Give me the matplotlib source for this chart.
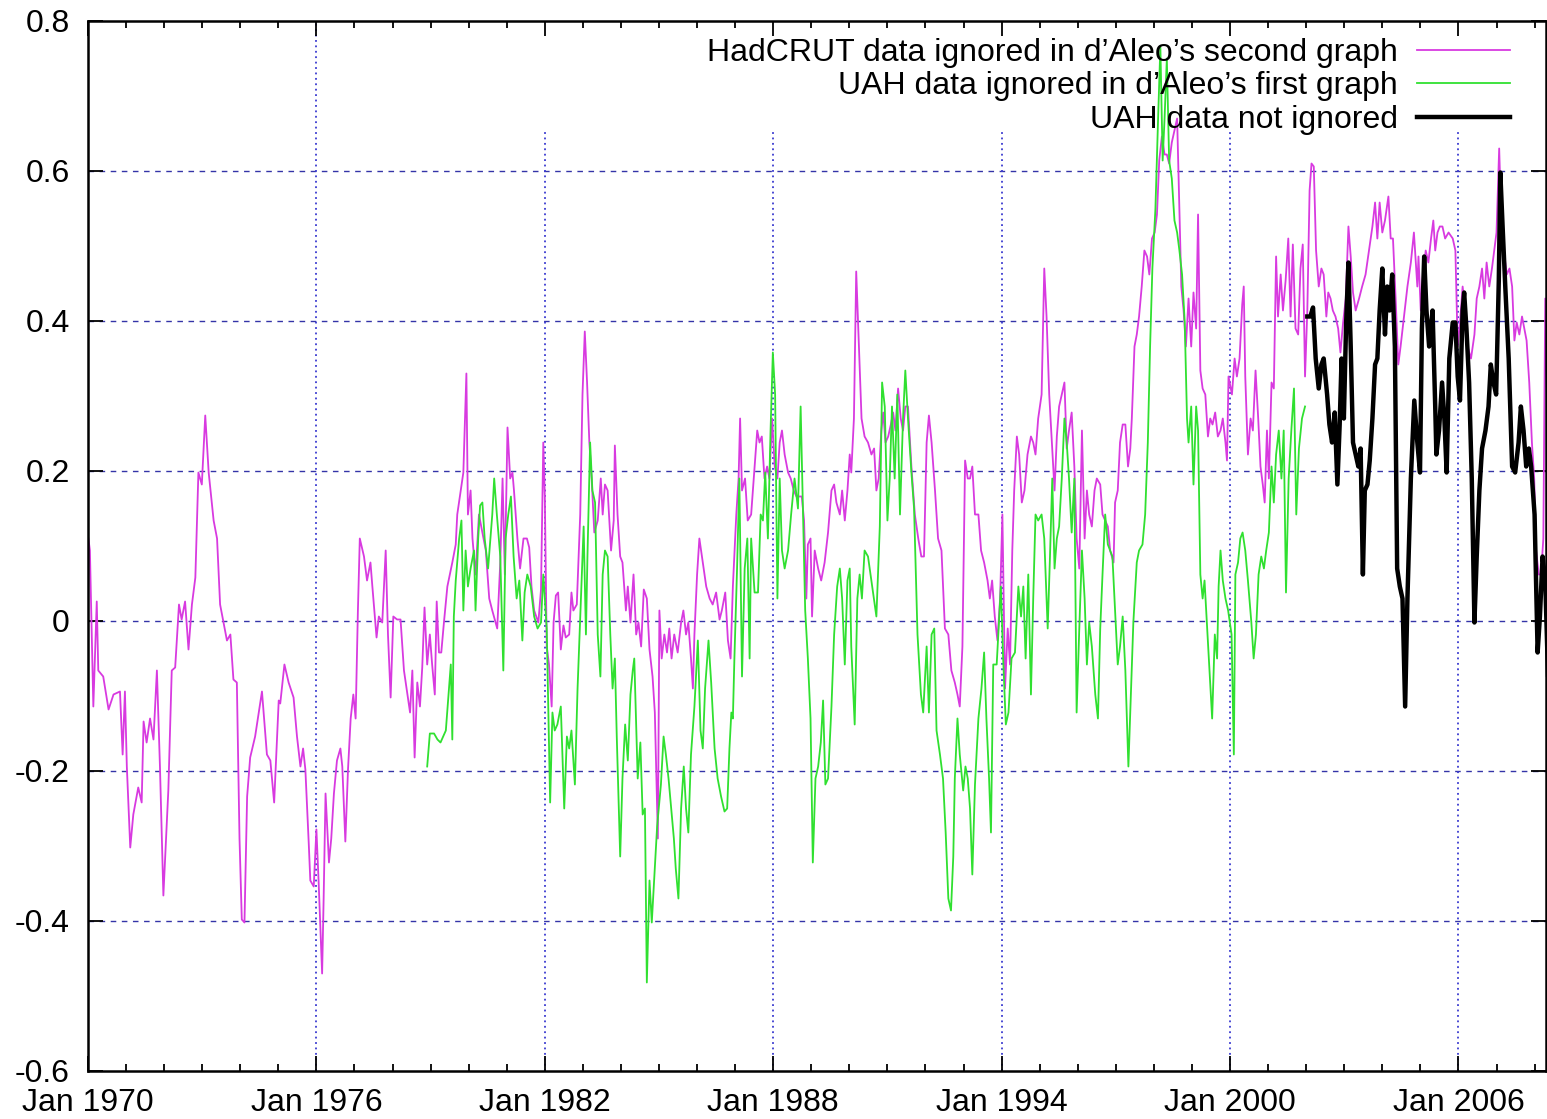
import matplotlib.pyplot as plt
import numpy as np

plt.rcParams['font.family'] = ['Liberation Sans', 'DejaVu Sans']

# HadCRUT anomaly (decimal year, deg C)
had_t = [1970.01, 1970.05, 1970.14, 1970.23, 1970.27, 1970.40, 1970.54, 1970.67, 1970.84, 1970.91,
         1970.97, 1971.02, 1971.11, 1971.19, 1971.32, 1971.41, 1971.46, 1971.54, 1971.63, 1971.72,
         1971.81, 1971.89, 1971.98, 1972.11, 1972.20, 1972.29, 1972.39, 1972.46, 1972.55, 1972.64,
         1972.73, 1972.82, 1972.90, 1972.99, 1973.08, 1973.17, 1973.30, 1973.39, 1973.47, 1973.56,
         1973.65, 1973.74, 1973.82, 1973.91, 1973.98, 1974.04, 1974.11, 1974.18, 1974.26, 1974.39,
         1974.57, 1974.70, 1974.79, 1974.89, 1975.01, 1975.05, 1975.16, 1975.27, 1975.40, 1975.49,
         1975.58, 1975.65, 1975.71, 1975.80, 1975.84, 1975.93, 1976.00, 1976.06, 1976.15, 1976.19,
         1976.24, 1976.33, 1976.39, 1976.46, 1976.54, 1976.63, 1976.68, 1976.76, 1976.83, 1976.90,
         1976.97, 1977.03, 1977.09, 1977.14, 1977.25, 1977.33, 1977.42, 1977.47, 1977.58, 1977.64,
         1977.73, 1977.82, 1977.88, 1977.95, 1978.02, 1978.12, 1978.21, 1978.30, 1978.39, 1978.46,
         1978.52, 1978.58, 1978.65, 1978.72, 1978.78, 1978.84, 1978.91, 1978.98, 1979.04, 1979.11,
         1979.16, 1979.22, 1979.28, 1979.35, 1979.44, 1979.57, 1979.66, 1979.70, 1979.79, 1979.86,
         1979.94, 1979.98, 1980.05, 1980.10, 1980.18, 1980.27, 1980.36, 1980.45, 1980.54, 1980.62,
         1980.75, 1980.83, 1980.89, 1980.95, 1981.02, 1981.09, 1981.15, 1981.19, 1981.28, 1981.35,
         1981.44, 1981.53, 1981.59, 1981.65, 1981.72, 1981.83, 1981.90, 1981.96, 1982.00, 1982.05,
         1982.11, 1982.18, 1982.23, 1982.29, 1982.35, 1982.42, 1982.49, 1982.55, 1982.64, 1982.70,
         1982.75, 1982.84, 1982.93, 1982.99, 1983.05, 1983.11, 1983.17, 1983.23, 1983.30, 1983.39,
         1983.47, 1983.52, 1983.58, 1983.65, 1983.74, 1983.81, 1983.84, 1983.91, 1983.98, 1984.04,
         1984.13, 1984.18, 1984.25, 1984.33, 1984.40, 1984.46, 1984.53, 1984.60, 1984.68, 1984.75,
         1984.83, 1984.89, 1984.97, 1985.01, 1985.07, 1985.14, 1985.21, 1985.27, 1985.33, 1985.40,
         1985.49, 1985.58, 1985.64, 1985.71, 1985.77, 1985.84, 1985.89, 1985.93, 1986.00, 1986.06,
         1986.15, 1986.24, 1986.33, 1986.41, 1986.50, 1986.59, 1986.65, 1986.74, 1986.81, 1986.88,
         1986.94, 1987.03, 1987.09, 1987.13, 1987.18, 1987.26, 1987.33, 1987.42, 1987.51, 1987.58,
         1987.64, 1987.70, 1987.77, 1987.84, 1987.90, 1987.97, 1988.04, 1988.11, 1988.17, 1988.23,
         1988.30, 1988.39, 1988.46, 1988.54, 1988.61, 1988.69, 1988.75, 1988.81, 1988.87, 1988.91,
         1988.98, 1989.02, 1989.09, 1989.18, 1989.26, 1989.35, 1989.44, 1989.53, 1989.60, 1989.66,
         1989.75, 1989.81, 1989.88, 1989.95, 1990.01, 1990.05, 1990.12, 1990.18, 1990.25, 1990.32,
         1990.40, 1990.49, 1990.58, 1990.65, 1990.71, 1990.77, 1990.84, 1990.89, 1990.95, 1991.02,
         1991.09, 1991.15, 1991.21, 1991.28, 1991.35, 1991.41, 1991.47, 1991.54, 1991.63, 1991.72,
         1991.81, 1991.89, 1991.96, 1992.03, 1992.09, 1992.16, 1992.25, 1992.33, 1992.42, 1992.51,
         1992.60, 1992.68, 1992.77, 1992.84, 1992.90, 1992.97, 1993.04, 1993.11, 1993.17, 1993.23,
         1993.30, 1993.39, 1993.46, 1993.54, 1993.63, 1993.69, 1993.75, 1993.82, 1993.89, 1993.96,
         1994.02, 1994.09, 1994.16, 1994.22, 1994.28, 1994.33, 1994.40, 1994.46, 1994.53, 1994.60,
         1994.68, 1994.77, 1994.83, 1994.89, 1994.96, 1995.05, 1995.12, 1995.18, 1995.25, 1995.32,
         1995.39, 1995.45, 1995.51, 1995.58, 1995.65, 1995.71, 1995.77, 1995.84, 1995.91, 1995.97,
         1996.04, 1996.11, 1996.18, 1996.24, 1996.30, 1996.37, 1996.44, 1996.50, 1996.59, 1996.65,
         1996.72, 1996.79, 1996.85, 1996.94, 1996.98, 1997.05, 1997.11, 1997.18, 1997.25, 1997.32,
         1997.38, 1997.42, 1997.49, 1997.55, 1997.61, 1997.68, 1997.75, 1997.82, 1997.88, 1997.95,
         1998.02, 1998.08, 1998.14, 1998.21, 1998.28, 1998.34, 1998.40, 1998.47, 1998.54, 1998.61,
         1998.67, 1998.72, 1998.78, 1998.84, 1998.91, 1998.98, 1999.04, 1999.11, 1999.16, 1999.22,
         1999.28, 1999.35, 1999.42, 1999.48, 1999.54, 1999.61, 1999.68, 1999.75, 1999.81, 1999.88,
         1999.92, 1999.96, 2000.05, 2000.12, 2000.18, 2000.25, 2000.32, 2000.36, 2000.40, 2000.47,
         2000.54, 2000.60, 2000.67, 2000.74, 2000.80, 2000.86, 2000.91, 2000.97, 2001.02, 2001.09,
         2001.15, 2001.21, 2001.26, 2001.33, 2001.39, 2001.46, 2001.53, 2001.59, 2001.65, 2001.72,
         2001.79, 2001.85, 2001.91, 2001.97, 2002.03, 2002.09, 2002.14, 2002.20, 2002.26, 2002.33,
         2002.40, 2002.46, 2002.53, 2002.58, 2002.64, 2002.70, 2002.77, 2002.84, 2002.90, 2002.97,
         2003.04, 2003.11, 2003.17, 2003.23, 2003.30, 2003.39, 2003.47, 2003.56, 2003.65, 2003.74,
         2003.81, 2003.87, 2003.93, 2004.00, 2004.07, 2004.16, 2004.22, 2004.28, 2004.35, 2004.42,
         2004.48, 2004.57, 2004.66, 2004.75, 2004.83, 2004.92, 2004.95, 2005.01, 2005.07, 2005.14,
         2005.21, 2005.28, 2005.34, 2005.39, 2005.45, 2005.51, 2005.58, 2005.65, 2005.74, 2005.85,
         2005.92, 2005.98, 2006.04, 2006.11, 2006.18, 2006.24, 2006.33, 2006.42, 2006.48, 2006.55,
         2006.62, 2006.68, 2006.74, 2006.81, 2006.88, 2006.94, 2007.00, 2007.07, 2007.14, 2007.21,
         2007.27, 2007.34, 2007.41, 2007.47, 2007.53, 2007.60, 2007.67, 2007.73, 2007.79, 2007.86,
         2007.93, 2007.99, 2008.04, 2008.11, 2008.17, 2008.23, 2008.28, 2008.34, 2008.40]
had_v = [0.110, 0.094, -0.114, 0.026, -0.066, -0.074, -0.118, -0.098, -0.094, -0.178,
         -0.094, -0.194, -0.302, -0.258, -0.222, -0.242, -0.134, -0.162, -0.130, -0.158,
         -0.066, -0.194, -0.366, -0.226, -0.066, -0.062, 0.022, 0.002, 0.026, -0.038,
         0.022, 0.058, 0.198, 0.182, 0.274, 0.198, 0.134, 0.110, 0.022, -0.002,
         -0.026, -0.018, -0.078, -0.082, -0.290, -0.398, -0.402, -0.234, -0.182, -0.154,
         -0.094, -0.178, -0.186, -0.242, -0.106, -0.110, -0.058, -0.082, -0.102, -0.154,
         -0.194, -0.170, -0.198, -0.298, -0.346, -0.354, -0.278, -0.350, -0.470, -0.370,
         -0.230, -0.322, -0.290, -0.230, -0.186, -0.170, -0.194, -0.294, -0.198, -0.130,
         -0.098, -0.130, 0.014, 0.110, 0.086, 0.054, 0.078, 0.046, -0.022, 0.006,
         -0.002, 0.094, -0.018, -0.102, 0.006, 0.002, 0.002, -0.066, -0.098, -0.122,
         -0.066, -0.182, -0.082, -0.114, -0.062, 0.018, -0.058, -0.018, -0.058, -0.098,
         0.026, -0.042, -0.042, -0.002, 0.046, 0.078, 0.102, 0.142, 0.174, 0.198,
         0.330, 0.142, 0.174, 0.110, 0.062, 0.142, 0.118, 0.094, 0.030, 0.014,
         -0.010, 0.078, 0.190, 0.062, 0.258, 0.190, 0.198, 0.174, 0.110, 0.070,
         0.110, 0.110, 0.098, 0.046, 0.014, -0.002, 0.042, 0.238, 0.166, -0.034,
         -0.058, -0.114, -0.002, 0.034, 0.038, -0.038, -0.006, -0.022, -0.018, 0.038,
         0.014, 0.022, 0.142, 0.302, 0.386, 0.318, 0.238, 0.190, 0.118, 0.134,
         0.190, 0.142, 0.182, 0.174, 0.094, 0.134, 0.234, 0.142, 0.086, 0.078,
         0.014, 0.046, -0.002, 0.062, -0.018, -0.002, -0.034, 0.042, 0.030, -0.038,
         -0.074, -0.122, -0.290, 0.014, -0.050, -0.018, -0.042, -0.010, -0.050, -0.018,
         -0.042, -0.002, 0.014, -0.018, -0.002, -0.050, -0.090, -0.018, 0.062, 0.110,
         0.078, 0.046, 0.030, 0.022, 0.038, 0.002, 0.014, 0.038, -0.026, -0.050,
         0.046, 0.142, 0.190, 0.270, 0.174, 0.190, 0.134, 0.142, 0.206, 0.254,
         0.238, 0.246, 0.190, 0.206, 0.190, 0.270, 0.206, 0.190, 0.238, 0.254,
         0.222, 0.198, 0.190, 0.174, 0.166, 0.166, 0.166, 0.134, 0.030, 0.102,
         0.110, 0.006, 0.094, 0.070, 0.054, 0.078, 0.118, 0.174, 0.182, 0.158,
         0.142, 0.174, 0.134, 0.174, 0.222, 0.198, 0.270, 0.466, 0.366, 0.270,
         0.246, 0.238, 0.222, 0.230, 0.174, 0.190, 0.254, 0.278, 0.238, 0.246,
         0.262, 0.278, 0.254, 0.310, 0.270, 0.254, 0.286, 0.286, 0.206, 0.142,
         0.110, 0.086, 0.086, 0.238, 0.274, 0.238, 0.174, 0.110, 0.094, -0.010,
         -0.018, -0.066, -0.082, -0.098, -0.114, -0.034, 0.214, 0.190, 0.190, 0.206,
         0.142, 0.142, 0.094, 0.078, 0.054, 0.030, 0.054, 0.006, -0.026, 0.030,
         0.142, -0.090, -0.010, -0.058, 0.094, 0.174, 0.246, 0.222, 0.158, 0.174,
         0.222, 0.246, 0.238, 0.222, 0.270, 0.302, 0.470, 0.406, 0.302, 0.238,
         0.174, 0.246, 0.286, 0.302, 0.318, 0.230, 0.254, 0.278, 0.206, 0.110,
         0.070, 0.254, 0.110, 0.174, 0.142, 0.126, 0.174, 0.190, 0.182, 0.142,
         0.134, 0.126, 0.094, 0.078, 0.158, 0.174, 0.238, 0.262, 0.262, 0.206,
         0.230, 0.270, 0.366, 0.382, 0.406, 0.446, 0.494, 0.486, 0.462, 0.510,
         0.518, 0.542, 0.614, 0.646, 0.622, 0.622, 0.610, 0.638, 0.654, 0.670,
         0.550, 0.446, 0.414, 0.366, 0.430, 0.366, 0.438, 0.390, 0.542, 0.334,
         0.310, 0.302, 0.246, 0.270, 0.262, 0.278, 0.246, 0.254, 0.270, 0.238,
         0.214, 0.326, 0.302, 0.350, 0.326, 0.350, 0.422, 0.446, 0.326, 0.222,
         0.270, 0.254, 0.334, 0.270, 0.206, 0.182, 0.158, 0.254, 0.190, 0.318,
         0.310, 0.486, 0.406, 0.462, 0.414, 0.454, 0.510, 0.406, 0.502, 0.390,
         0.382, 0.470, 0.502, 0.326, 0.414, 0.574, 0.610, 0.606, 0.494, 0.446,
         0.470, 0.462, 0.406, 0.438, 0.430, 0.414, 0.406, 0.390, 0.358, 0.398,
         0.430, 0.526, 0.486, 0.438, 0.414, 0.430, 0.446, 0.462, 0.494, 0.526,
         0.558, 0.510, 0.558, 0.518, 0.534, 0.566, 0.510, 0.510, 0.430, 0.342,
         0.366, 0.406, 0.446, 0.478, 0.518, 0.446, 0.486, 0.414, 0.462, 0.494,
         0.478, 0.510, 0.534, 0.494, 0.518, 0.526, 0.526, 0.510, 0.518, 0.510,
         0.494, 0.366, 0.398, 0.446, 0.414, 0.366, 0.350, 0.382, 0.430, 0.446,
         0.470, 0.430, 0.478, 0.446, 0.470, 0.494, 0.518, 0.630, 0.510, 0.486,
         0.462, 0.470, 0.446, 0.374, 0.398, 0.382, 0.406, 0.390, 0.374, 0.318,
         0.238, 0.190, 0.094, 0.062, 0.062, 0.110, 0.430, 0.254, 0.302]

# UAH lower troposphere, 1978-2001 part
uah_old_t = [1978.91, 1978.98, 1979.09, 1979.18, 1979.26, 1979.40, 1979.47, 1979.53, 1979.57, 1979.61,
             1979.66, 1979.75, 1979.81, 1979.86, 1979.92, 1979.98, 1980.05, 1980.14, 1980.18, 1980.25,
             1980.30, 1980.36, 1980.42, 1980.51, 1980.62, 1980.67, 1980.74, 1980.83, 1980.91, 1980.97,
             1981.04, 1981.11, 1981.18, 1981.26, 1981.33, 1981.41, 1981.47, 1981.54, 1981.63, 1981.72,
             1981.81, 1981.90, 1981.96, 1982.05, 1982.14, 1982.20, 1982.26, 1982.33, 1982.42, 1982.51,
             1982.58, 1982.64, 1982.70, 1982.79, 1982.86, 1982.95, 1983.02, 1983.08, 1983.12, 1983.19,
             1983.25, 1983.32, 1983.39, 1983.46, 1983.52, 1983.58, 1983.65, 1983.72, 1983.78, 1983.84,
             1983.89, 1983.98, 1984.04, 1984.11, 1984.18, 1984.25, 1984.31, 1984.35, 1984.44, 1984.51,
             1984.57, 1984.63, 1984.68, 1984.75, 1984.81, 1984.88, 1984.95, 1985.05, 1985.12, 1985.18,
             1985.25, 1985.32, 1985.39, 1985.44, 1985.51, 1985.58, 1985.65, 1985.71, 1985.77, 1985.84,
             1985.93, 1986.02, 1986.09, 1986.15, 1986.21, 1986.30, 1986.37, 1986.46, 1986.54, 1986.63,
             1986.72, 1986.79, 1986.85, 1986.90, 1986.94, 1986.98, 1987.05, 1987.11, 1987.18, 1987.25,
             1987.32, 1987.38, 1987.42, 1987.51, 1987.60, 1987.67, 1987.73, 1987.79, 1987.86, 1987.93,
             1987.99, 1988.05, 1988.11, 1988.17, 1988.23, 1988.30, 1988.39, 1988.47, 1988.56, 1988.65,
             1988.72, 1988.78, 1988.84, 1988.91, 1988.98, 1989.04, 1989.11, 1989.18, 1989.25, 1989.31,
             1989.37, 1989.44, 1989.53, 1989.60, 1989.68, 1989.75, 1989.81, 1989.88, 1989.95, 1990.01,
             1990.05, 1990.14, 1990.21, 1990.27, 1990.33, 1990.40, 1990.49, 1990.60, 1990.71, 1990.80,
             1990.86, 1990.93, 1991.00, 1991.06, 1991.12, 1991.19, 1991.26, 1991.33, 1991.41, 1991.47,
             1991.54, 1991.63, 1991.70, 1991.79, 1991.88, 1991.94, 1992.03, 1992.09, 1992.16, 1992.23,
             1992.29, 1992.38, 1992.46, 1992.53, 1992.60, 1992.67, 1992.73, 1992.77, 1992.84, 1992.90,
             1992.99, 1993.05, 1993.11, 1993.17, 1993.23, 1993.30, 1993.39, 1993.47, 1993.54, 1993.60,
             1993.67, 1993.72, 1993.78, 1993.87, 1993.93, 1993.98, 1994.04, 1994.11, 1994.18, 1994.26,
             1994.35, 1994.44, 1994.51, 1994.57, 1994.63, 1994.70, 1994.77, 1994.83, 1994.89, 1994.96,
             1995.05, 1995.12, 1995.21, 1995.27, 1995.33, 1995.39, 1995.45, 1995.51, 1995.58, 1995.65,
             1995.71, 1995.77, 1995.84, 1995.91, 1995.97, 1996.04, 1996.11, 1996.18, 1996.24, 1996.30,
             1996.37, 1996.46, 1996.53, 1996.59, 1996.65, 1996.72, 1996.79, 1996.85, 1996.91, 1996.98,
             1997.05, 1997.11, 1997.18, 1997.25, 1997.33, 1997.40, 1997.46, 1997.55, 1997.61, 1997.70,
             1997.77, 1997.84, 1997.90, 1997.96, 1998.04, 1998.11, 1998.17, 1998.23, 1998.28, 1998.34,
             1998.40, 1998.47, 1998.54, 1998.61, 1998.67, 1998.74, 1998.81, 1998.87, 1998.91, 1998.98,
             1999.04, 1999.11, 1999.16, 1999.22, 1999.28, 1999.33, 1999.39, 1999.46, 1999.53, 1999.60,
             1999.66, 1999.70, 1999.75, 1999.81, 1999.88, 1999.95, 2000.04, 2000.10, 2000.14, 2000.21,
             2000.27, 2000.33, 2000.40, 2000.47, 2000.56, 2000.62, 2000.68, 2000.75, 2000.82, 2000.89,
             2000.95, 2001.02, 2001.09, 2001.15, 2001.21, 2001.28, 2001.35, 2001.41, 2001.47, 2001.54,
             2001.61, 2001.68, 2001.74, 2001.81, 2001.89, 2001.97]
uah_old_v = [-0.194, -0.150, -0.150, -0.158, -0.162, -0.146, -0.098, -0.058, -0.158, 0.006,
             0.054, 0.110, 0.134, 0.014, 0.094, 0.046, 0.070, 0.094, 0.014, 0.110,
             0.154, 0.158, 0.110, 0.070, 0.142, 0.190, 0.142, 0.086, -0.066, 0.110,
             0.142, 0.166, 0.086, 0.030, 0.054, -0.026, 0.038, 0.062, 0.046, 0.006,
             -0.010, -0.002, 0.062, -0.010, -0.242, -0.122, -0.146, -0.138, -0.114, -0.250,
             -0.154, -0.170, -0.146, -0.218, -0.090, 0.030, 0.126, -0.018, 0.086, 0.238,
             0.174, 0.158, -0.018, -0.074, 0.062, 0.094, 0.086, -0.018, -0.090, -0.050,
             -0.154, -0.314, -0.210, -0.138, -0.186, -0.098, -0.066, -0.050, -0.210, -0.162,
             -0.258, -0.250, -0.482, -0.346, -0.402, -0.338, -0.274, -0.218, -0.154, -0.178,
             -0.210, -0.250, -0.290, -0.330, -0.370, -0.250, -0.194, -0.250, -0.282, -0.178,
             -0.114, -0.026, -0.146, -0.170, -0.090, -0.026, -0.082, -0.170, -0.210, -0.234,
             -0.254, -0.250, -0.170, -0.122, -0.130, -0.050, 0.070, 0.190, -0.074, 0.070,
             0.110, -0.050, 0.110, 0.038, 0.038, 0.142, 0.134, 0.198, 0.110, 0.254,
             0.358, 0.302, 0.030, 0.190, 0.094, 0.070, 0.094, 0.142, 0.190, 0.150,
             0.286, 0.150, 0.014, -0.050, -0.130, -0.322, -0.210, -0.194, -0.162, -0.106,
             -0.218, -0.210, -0.114, -0.018, 0.046, 0.070, 0.030, -0.058, 0.054, 0.070,
             -0.034, -0.138, 0.030, 0.062, 0.030, 0.094, 0.086, 0.046, 0.006, 0.126,
             0.318, 0.286, 0.134, 0.190, 0.286, 0.190, 0.302, 0.142, 0.270, 0.334,
             0.270, 0.198, 0.150, -0.018, -0.098, -0.122, -0.034, -0.122, -0.018, -0.010,
             -0.146, -0.178, -0.210, -0.282, -0.370, -0.386, -0.314, -0.210, -0.130, -0.178,
             -0.226, -0.194, -0.210, -0.250, -0.338, -0.218, -0.130, -0.090, -0.042, -0.130,
             -0.210, -0.282, -0.058, -0.058, -0.002, 0.046, -0.050, -0.138, -0.122, -0.050,
             -0.042, 0.046, 0.006, 0.046, -0.050, 0.062, -0.098, 0.030, 0.142, 0.134,
             0.142, 0.110, -0.010, 0.086, 0.190, 0.070, 0.110, 0.126, 0.190, 0.270,
             0.238, 0.190, 0.118, 0.190, -0.122, -0.010, 0.094, 0.030, -0.058, -0.002,
             -0.034, -0.098, -0.130, -0.010, 0.062, 0.142, 0.102, 0.094, 0.086, 0.014,
             -0.058, -0.034, 0.006, -0.066, -0.194, -0.090, -0.002, 0.078, 0.094, 0.102,
             0.142, 0.238, 0.366, 0.470, 0.550, 0.670, 0.766, 0.614, 0.670, 0.750,
             0.614, 0.590, 0.534, 0.518, 0.494, 0.462, 0.398, 0.270, 0.238, 0.286,
             0.182, 0.286, 0.254, 0.062, 0.030, 0.054, -0.002, -0.066, -0.130, -0.018,
             -0.050, 0.046, 0.094, 0.054, 0.030, 0.014, -0.018, -0.178, 0.062, 0.078,
             0.110, 0.118, 0.094, 0.054, -0.002, -0.050, -0.018, 0.062, 0.086, 0.070,
             0.094, 0.118, 0.206, 0.158, 0.222, 0.254, 0.190, 0.254, 0.038, 0.190,
             0.254, 0.310, 0.142, 0.230, 0.270, 0.286]

# UAH lower troposphere, 2002 onwards
uah_new_t = [2002.03, 2002.11, 2002.18, 2002.25, 2002.33, 2002.40, 2002.46, 2002.55, 2002.61, 2002.68,
             2002.75, 2002.82, 2002.88, 2002.93, 2002.99, 2003.05, 2003.11, 2003.17, 2003.23, 2003.30,
             2003.37, 2003.43, 2003.49, 2003.54, 2003.61, 2003.67, 2003.74, 2003.81, 2003.87, 2003.93,
             2004.00, 2004.07, 2004.13, 2004.19, 2004.26, 2004.33, 2004.39, 2004.46, 2004.53, 2004.60,
             2004.66, 2004.75, 2004.84, 2004.92, 2004.99, 2005.04, 2005.10, 2005.16, 2005.23, 2005.32,
             2005.39, 2005.42, 2005.49, 2005.57, 2005.63, 2005.69, 2005.76, 2005.85, 2005.92, 2005.98,
             2006.04, 2006.11, 2006.15, 2006.21, 2006.28, 2006.35, 2006.42, 2006.48, 2006.55, 2006.62,
             2006.71, 2006.79, 2006.85, 2006.92, 2006.99, 2007.06, 2007.10, 2007.16, 2007.23, 2007.32,
             2007.41, 2007.49, 2007.58, 2007.64, 2007.71, 2007.78, 2007.85, 2007.91, 2008.00, 2008.08,
             2008.14, 2008.21, 2008.28, 2008.34, 2008.40]
uah_new_v = [0.406, 0.406, 0.418, 0.350, 0.310, 0.342, 0.350, 0.302, 0.262, 0.238,
             0.278, 0.182, 0.262, 0.350, 0.270, 0.398, 0.478, 0.366, 0.238, 0.222,
             0.206, 0.230, 0.062, 0.174, 0.182, 0.214, 0.270, 0.342, 0.350, 0.414,
             0.470, 0.382, 0.446, 0.414, 0.462, 0.366, 0.070, 0.046, 0.030, -0.114,
             0.030, 0.190, 0.294, 0.238, 0.198, 0.390, 0.486, 0.414, 0.366, 0.414,
             0.286, 0.222, 0.254, 0.318, 0.270, 0.198, 0.350, 0.398, 0.398, 0.326,
             0.294, 0.414, 0.438, 0.390, 0.318, 0.190, -0.002, 0.086, 0.174, 0.230,
             0.254, 0.286, 0.342, 0.318, 0.302, 0.454, 0.598, 0.526, 0.446, 0.350,
             0.206, 0.198, 0.238, 0.286, 0.254, 0.206, 0.230, 0.206, 0.142, -0.042,
             0.006, 0.086, 0.054, -0.050, -0.154]

labels = ["HadCRUT data ignored in d’Aleo’s second graph",
          "UAH data ignored in d’Aleo’s first graph",
          "UAH data not ignored"]
major_years = [1970, 1976, 1982, 1988, 1994, 2000, 2006]
y_ticks = [-0.6, -0.4, -0.2, 0, 0.2, 0.4, 0.6, 0.8]
y_labels = ['-0.6', '-0.4', '-0.2', '0', '0.2', '0.4', '0.6', '0.8']

fig = plt.figure(figsize=(15.47, 11.19), dpi=100)
ax = fig.add_axes([88 / 1547, 48 / 1119, 1458 / 1547, 1050 / 1119])

# grid like gnuplot: dashed horizontals, dotted verticals (cut under the key)
for y in y_ticks[1:-1]:
    ax.axhline(y, color='#3434a8', lw=1.0, ls=(0, (4, 4)), zorder=0)
for yr in major_years[1:]:
    top = 1.0 if yr == 1976 else 0.895
    ax.axvline(yr, ymax=top, color='#3a3ad0', lw=1.3, ls=(0, (1, 2)), zorder=0)

ax.plot(had_t, had_v, color='#d83ae0', lw=1.3, label=labels[0])
ax.plot(uah_old_t, uah_old_v, color='#30e030', lw=1.3, label=labels[1])
ax.plot(uah_new_t, uah_new_v, color='black', lw=3.2, label=labels[2])

ax.set_xlim(1970, 2008.3)
ax.set_ylim(-0.6, 0.8)
ax.set_xticks(major_years)
ax.set_xticklabels(['Jan %d' % y for y in major_years])
ax.set_xticks(range(1970, 2009), minor=True)
ax.set_yticks(y_ticks)
ax.set_yticklabels(y_labels)

ax.tick_params(which='both', direction='in', top=True, right=True, labelsize=23, width=1.3)
ax.tick_params(which='major', length=11)
ax.tick_params(which='minor', length=5)
ax.tick_params(axis='y', pad=13)
ax.tick_params(axis='x', pad=12)
for s in ax.spines.values():
    s.set_linewidth(1.8)

ax.legend(loc='upper right', bbox_to_anchor=(0.9753, 0.984), frameon=False, markerfirst=False,
          fontsize=23, handlelength=2.9, handletextpad=0.6, labelspacing=0.11,
          borderaxespad=0, borderpad=0)

fig.savefig('out.png', dpi=100)
